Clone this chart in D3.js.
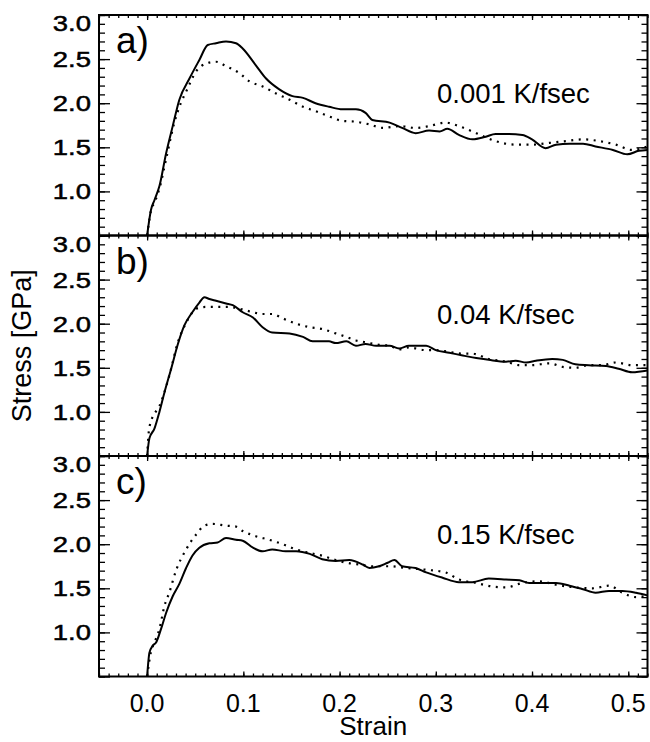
<!DOCTYPE html>
<html>
<head>
<meta charset="utf-8">
<script src="https://cdn.jsdelivr.net/npm/d3@7"></script>
<style>
  html, body { margin: 0; padding: 0; background: #fff; }
  svg { display: block; }
  text { font-family: "Liberation Sans", Arial, Helvetica, sans-serif; fill: #000; }
</style>
</head>
<body>
<svg id="chart" width="650" height="742"></svg>
<script>
// ---------------- data ----------------
const panelLabels = ["a)", "b)", "c)"];
const rateLabels = ["0.001 K/fsec", "0.04 K/fsec", "0.15 K/fsec"];
const xTickValues = [0.0, 0.1, 0.2, 0.3, 0.4, 0.5];
const xTickLabels = ["0.0", "0.1", "0.2", "0.3", "0.4", "0.5"];
const yTickValues = [1.0, 1.5, 2.0, 2.5, 3.0];
const yTickLabels = ["1.0", "1.5", "2.0", "2.5", "3.0"];
const xDomain = [-0.05, 0.52];
const yDomain = [0.5, 3.0];

// [strain, stress GPa]
const aSolid = [[0,0.5],[0.004,0.79],[0.0076,0.9],[0.0128,1.06],[0.0197,1.43],[0.0266,1.74],[0.0335,2.04],[0.044,2.28],[0.0543,2.49],[0.063,2.66],[0.0716,2.68],[0.082,2.70],[0.0924,2.68],[0.0993,2.62],[0.113,2.43],[0.1236,2.28],[0.137,2.16],[0.151,2.08],[0.162,2.06],[0.175,2.0],[0.189,1.96],[0.203,1.93],[0.217,1.93],[0.227,1.89],[0.234,1.81],[0.252,1.78],[0.265,1.72],[0.279,1.66],[0.293,1.69],[0.304,1.68],[0.312,1.71],[0.324,1.64],[0.338,1.59],[0.352,1.62],[0.362,1.65],[0.376,1.65],[0.39,1.64],[0.40,1.59],[0.414,1.49],[0.425,1.53],[0.439,1.54],[0.453,1.54],[0.466,1.51],[0.484,1.47],[0.499,1.42],[0.511,1.46],[0.52,1.47]];
const aDotted = [[0,0.5],[0.004,0.78],[0.008,0.88],[0.013,1.04],[0.02,1.38],[0.0283,1.78],[0.035,2.0],[0.0405,2.13],[0.0509,2.36],[0.0613,2.45],[0.0716,2.47],[0.082,2.42],[0.096,2.34],[0.106,2.25],[0.12,2.19],[0.134,2.11],[0.148,2.04],[0.162,1.96],[0.175,1.91],[0.189,1.85],[0.203,1.80],[0.217,1.79],[0.231,1.76],[0.245,1.72],[0.262,1.74],[0.279,1.72],[0.293,1.74],[0.31,1.78],[0.324,1.74],[0.342,1.66],[0.362,1.57],[0.383,1.53],[0.40,1.53],[0.418,1.55],[0.435,1.57],[0.453,1.59],[0.47,1.57],[0.487,1.53],[0.504,1.47],[0.52,1.51]];
const bSolid = [[0,0.5],[0.0024,0.70],[0.0076,0.81],[0.0128,1.0],[0.018,1.22],[0.025,1.49],[0.032,1.77],[0.0387,1.98],[0.047,2.13],[0.0543,2.24],[0.0595,2.30],[0.0647,2.28],[0.0716,2.26],[0.082,2.23],[0.089,2.21],[0.0993,2.13],[0.11,2.07],[0.12,1.96],[0.13,1.90],[0.148,1.89],[0.162,1.85],[0.172,1.80],[0.189,1.80],[0.196,1.78],[0.207,1.80],[0.217,1.75],[0.227,1.77],[0.238,1.75],[0.252,1.75],[0.262,1.72],[0.272,1.75],[0.29,1.75],[0.30,1.70],[0.314,1.67],[0.328,1.64],[0.342,1.61],[0.355,1.59],[0.373,1.57],[0.383,1.58],[0.394,1.56],[0.404,1.58],[0.421,1.60],[0.432,1.59],[0.445,1.54],[0.459,1.53],[0.477,1.52],[0.49,1.49],[0.504,1.45],[0.52,1.47]];
const bDotted = [[0,0.5],[0.0024,0.83],[0.0145,1.11],[0.023,1.41],[0.032,1.79],[0.042,2.04],[0.051,2.17],[0.061,2.19],[0.0716,2.19],[0.085,2.19],[0.096,2.17],[0.11,2.13],[0.12,2.11],[0.13,2.11],[0.141,2.06],[0.155,2.0],[0.169,1.96],[0.182,1.94],[0.196,1.89],[0.207,1.85],[0.217,1.81],[0.227,1.79],[0.241,1.76],[0.252,1.75],[0.262,1.71],[0.272,1.73],[0.29,1.70],[0.30,1.70],[0.314,1.68],[0.328,1.66],[0.338,1.66],[0.355,1.60],[0.373,1.57],[0.387,1.53],[0.40,1.53],[0.418,1.55],[0.432,1.51],[0.445,1.50],[0.459,1.53],[0.473,1.53],[0.487,1.56],[0.504,1.53],[0.52,1.53]];
const cSolid = [[0,0.5],[0.0024,0.77],[0.0059,0.85],[0.0093,0.885],[0.0145,1.04],[0.0197,1.22],[0.0266,1.41],[0.0335,1.55],[0.0405,1.73],[0.047,1.87],[0.0543,1.96],[0.0647,2.01],[0.0733,2.02],[0.082,2.07],[0.0924,2.05],[0.0993,2.04],[0.11,1.96],[0.12,1.92],[0.13,1.94],[0.144,1.92],[0.155,1.92],[0.169,1.89],[0.182,1.83],[0.196,1.81],[0.21,1.82],[0.224,1.77],[0.231,1.73],[0.241,1.75],[0.25,1.79],[0.257,1.82],[0.265,1.75],[0.279,1.73],[0.29,1.68],[0.307,1.62],[0.324,1.57],[0.338,1.57],[0.355,1.61],[0.373,1.60],[0.387,1.59],[0.397,1.56],[0.411,1.56],[0.425,1.56],[0.439,1.53],[0.453,1.49],[0.466,1.45],[0.48,1.47],[0.494,1.47],[0.508,1.45],[0.52,1.42]];
const cDotted = [[0,0.5],[0.004,0.78],[0.0076,0.885],[0.0128,1.04],[0.018,1.30],[0.023,1.45],[0.03,1.70],[0.0405,1.94],[0.051,2.11],[0.0595,2.21],[0.068,2.23],[0.082,2.21],[0.0924,2.20],[0.0993,2.15],[0.113,2.09],[0.127,2.05],[0.141,2.0],[0.155,1.94],[0.169,1.90],[0.182,1.87],[0.193,1.83],[0.207,1.79],[0.22,1.77],[0.234,1.75],[0.252,1.75],[0.269,1.73],[0.29,1.71],[0.31,1.68],[0.324,1.60],[0.342,1.56],[0.359,1.52],[0.373,1.51],[0.39,1.56],[0.407,1.58],[0.425,1.54],[0.445,1.51],[0.463,1.50],[0.48,1.53],[0.494,1.45],[0.508,1.40],[0.52,1.42]];

const panels = [
  { label: panelLabels[0], rate: rateLabels[0], solid: aSolid, dotted: aDotted },
  { label: panelLabels[1], rate: rateLabels[1], solid: bSolid, dotted: bDotted },
  { label: panelLabels[2], rate: rateLabels[2], solid: cSolid, dotted: cDotted }
];

// ---------------- layout ----------------
const left = 99, right = 647.5;
const top0 = 15, panelH = 220.5;
const svg = d3.select("#chart");

const x = d3.scaleLinear().domain(xDomain).range([left, right]);
const y = d3.scaleLinear().domain(yDomain).range([panelH, 0]);

const xMinor = d3.range(-5, 53).map(i => i / 100);
const yMinor = d3.range(5, 31).map(i => i / 10);

svg.append("defs").append("clipPath").attr("id", "plotclip")
  .append("rect").attr("x", left).attr("y", 0).attr("width", right - left).attr("height", panelH);

const line = d3.line().x(d => x(d[0])).y(d => y(d[1])).curve(d3.curveMonotoneX);

panels.forEach((p, i) => {
  const g = svg.append("g").attr("transform", `translate(0,${top0 + i * panelH})`);

  // curves
  const cg = g.append("g").attr("clip-path", "url(#plotclip)");
  cg.append("path").datum(p.dotted).attr("d", line)
    .attr("fill", "none").attr("stroke", "#000").attr("stroke-width", 2.2)
    .attr("stroke-dasharray", "2,5.5");
  cg.append("path").datum(p.solid).attr("d", line)
    .attr("fill", "none").attr("stroke", "#000").attr("stroke-width", 2)
    .attr("stroke-linejoin", "round");

  // axes (ticks inward on all four sides)
  const mkX = (axisFn, sizeMajor, sizeMinor) => {
    const maj = g.append("g").call(axisFn(x).tickValues(xTickValues).tickSize(sizeMajor).tickFormat(""));
    const min = g.append("g").call(axisFn(x).tickValues(xMinor).tickSize(sizeMinor).tickFormat(""));
    [maj, min].forEach(a => { a.select(".domain").remove(); a.selectAll("line").attr("stroke-width", 1.3); });
    return [maj, min];
  };
  // bottom: ticks point up
  mkX(d3.axisTop, 5, 3).forEach(a => a.attr("transform", `translate(0,${panelH})`));
  // top: ticks point down
  mkX(d3.axisBottom, 5, 3);

  const mkY = (axisFn, pos) => {
    const maj = g.append("g").attr("transform", `translate(${pos},0)`)
      .call(axisFn(y).tickValues(yTickValues.concat([0.5])).tickSize(11).tickFormat(""));
    const min = g.append("g").attr("transform", `translate(${pos},0)`)
      .call(axisFn(y).tickValues(yMinor).tickSize(6).tickFormat(""));
    [maj, min].forEach(a => { a.select(".domain").remove(); a.selectAll("line").attr("stroke-width", 1.3); });
  };
  mkY(d3.axisRight, left);
  mkY(d3.axisLeft, right);

  // frame
  g.append("rect").attr("x", left).attr("y", 0).attr("width", right - left).attr("height", panelH)
    .attr("fill", "none").attr("stroke", "#000").attr("stroke-width", 2);

  // y tick labels
  yTickValues.forEach((v, k) => {
    const yy = v === 3.0 ? y(v) + 16 : y(v) + 8;
    g.append("text")
      .attr("transform", `translate(91,${yy}) scale(1.22,1)`)
      .attr("text-anchor", "end")
      .attr("font-size", 22.5)
      .attr("stroke", "#000").attr("stroke-width", 0.5)
      .text(yTickLabels[k]);
  });

  // panel label
  g.append("text").attr("x", 116).attr("y", 38).attr("font-size", 37).text(p.label);
  // rate label
  g.append("text").attr("x", 437).attr("y", 88).attr("font-size", 27.5).text(p.rate);
});

// x tick labels
const bottomY = top0 + 3 * panelH;
xTickValues.forEach((v, k) => {
  svg.append("text").attr("x", x(v)).attr("y", bottomY + 35)
    .attr("text-anchor", "middle").attr("font-size", 25).text(xTickLabels[k]);
});

// axis titles
svg.append("text").attr("x", (left + right) / 2).attr("y", 735)
  .attr("text-anchor", "middle").attr("font-size", 26).text("Strain");
svg.append("text")
  .attr("transform", `translate(31,${top0 + 1.5 * panelH}) rotate(-90)`)
  .attr("text-anchor", "middle").attr("font-size", 27).text("Stress [GPa]");
</script>
</body>
</html>
